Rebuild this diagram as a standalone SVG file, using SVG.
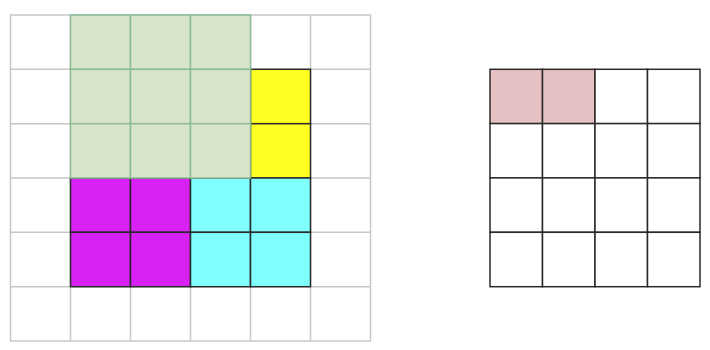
<svg xmlns="http://www.w3.org/2000/svg" width="710" height="350" viewBox="0 0 710 350">
<style>
.g{fill:#ffffff;stroke:#c8c8c8;stroke-width:1.5}
.gr{fill:#d9e4cd;stroke:#8bbd95;stroke-width:1.5}
.y{fill:#ffff22;stroke:#2a2a2a;stroke-width:1.5}
.m{fill:#d822f5;stroke:#2a2a2a;stroke-width:1.5}
.c{fill:#80ffff;stroke:#2a2a2a;stroke-width:1.5}
.w{fill:#ffffff;stroke:#2a2a2a;stroke-width:1.5}
.p{fill:#e5c1c4;stroke:#2a2a2a;stroke-width:1.5}
</style>
<rect width="710" height="350" fill="#ffffff"/>
<g id="left-grid">
<rect class="g" x="10.5" y="15" width="360" height="326"/>
<g stroke="#c8c8c8" stroke-width="1.5">
<line x1="70.5" y1="15" x2="70.5" y2="341"/>
<line x1="130.5" y1="15" x2="130.5" y2="341"/>
<line x1="190.5" y1="15" x2="190.5" y2="341"/>
<line x1="250.5" y1="15" x2="250.5" y2="341"/>
<line x1="310.5" y1="15" x2="310.5" y2="341"/>
<line x1="10.5" y1="69.3" x2="370.5" y2="69.3"/>
<line x1="10.5" y1="123.7" x2="370.5" y2="123.7"/>
<line x1="10.5" y1="178" x2="370.5" y2="178"/>
<line x1="10.5" y1="232.3" x2="370.5" y2="232.3"/>
<line x1="10.5" y1="286.7" x2="370.5" y2="286.7"/>
</g>
</g>
<g id="yellow">
<rect class="y" x="250.5" y="69.3" width="60" height="54.4"/>
<rect class="y" x="250.5" y="123.7" width="60" height="54.3"/>
</g>
<g id="magenta">
<rect class="m" x="70.5" y="178" width="60" height="54.3"/>
<rect class="m" x="130.5" y="178" width="60" height="54.3"/>
<rect class="m" x="70.5" y="232.3" width="60" height="54.4"/>
<rect class="m" x="130.5" y="232.3" width="60" height="54.4"/>
</g>
<g id="cyan">
<rect class="c" x="190.5" y="178" width="60" height="54.3"/>
<rect class="c" x="250.5" y="178" width="60" height="54.3"/>
<rect class="c" x="190.5" y="232.3" width="60" height="54.4"/>
<rect class="c" x="250.5" y="232.3" width="60" height="54.4"/>
</g>
<g id="green">
<rect class="gr" x="70.5" y="15" width="60" height="54.3"/>
<rect class="gr" x="130.5" y="15" width="60" height="54.3"/>
<rect class="gr" x="190.5" y="15" width="60" height="54.3"/>
<rect class="gr" x="70.5" y="69.3" width="60" height="54.4"/>
<rect class="gr" x="130.5" y="69.3" width="60" height="54.4"/>
<rect class="gr" x="190.5" y="69.3" width="60" height="54.4"/>
<rect class="gr" x="70.5" y="123.7" width="60" height="54.3"/>
<rect class="gr" x="130.5" y="123.7" width="60" height="54.3"/>
<rect class="gr" x="190.5" y="123.7" width="60" height="54.3"/>
</g>
<g id="right-grid">
<rect class="p" x="490" y="69.3" width="52.5" height="54.3"/>
<rect class="p" x="542.5" y="69.3" width="52.5" height="54.3"/>
<rect class="w" x="595" y="69.3" width="52.5" height="54.3"/>
<rect class="w" x="647.5" y="69.3" width="52.5" height="54.3"/>
<rect class="w" x="490" y="123.6" width="52.5" height="54.3"/>
<rect class="w" x="542.5" y="123.6" width="52.5" height="54.3"/>
<rect class="w" x="595" y="123.6" width="52.5" height="54.3"/>
<rect class="w" x="647.5" y="123.6" width="52.5" height="54.3"/>
<rect class="w" x="490" y="177.9" width="52.5" height="54.4"/>
<rect class="w" x="542.5" y="177.9" width="52.5" height="54.4"/>
<rect class="w" x="595" y="177.9" width="52.5" height="54.4"/>
<rect class="w" x="647.5" y="177.9" width="52.5" height="54.4"/>
<rect class="w" x="490" y="232.3" width="52.5" height="54.4"/>
<rect class="w" x="542.5" y="232.3" width="52.5" height="54.4"/>
<rect class="w" x="595" y="232.3" width="52.5" height="54.4"/>
<rect class="w" x="647.5" y="232.3" width="52.5" height="54.4"/>
</g>
</svg>
